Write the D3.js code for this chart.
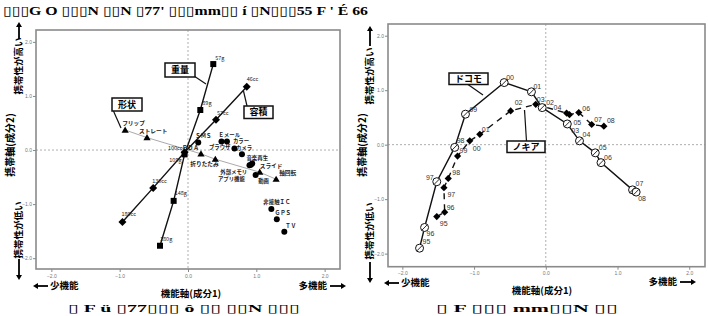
<!DOCTYPE html>
<html><head><meta charset="utf-8">
<script src="https://cdn.jsdelivr.net/npm/d3@7"></script>
<style>
body{margin:0;background:#fff;}
svg{display:block;}
text{font-family:"Noto Sans CJK JP","Noto Sans",sans-serif;}
</style></head><body>
<svg id="c" width="708" height="316"></svg>
<script>
// ---------- data ----------
const axisTicks = [-2, -1, 0, 1, 2];

const weightLabels = ["57g", "89g", "109g", "148g", "180g"];
const weightX = [0.37, 0.18, -0.05, -0.21, -0.41];
const weightY = [1.59, 0.74, -0.08, -0.94, -1.77];

const volumeLabels = ["46cc", "57cc", "100cc", "130cc", "180cc"];
const volumeX = [0.86, 0.41, -0.05, -0.51, -0.96];
const volumeY = [1.17, 0.56, -0.04, -0.70, -1.33];

const shapeLabels = ["フリップ", "ストレート", "ＰＤＡ", "折りたたみ", "スライド", "軸回転"];
const shapeX = [-0.92, -0.60, 0.19, 0.40, 1.05, 1.29];
const shapeY = [0.37, 0.23, -0.07, -0.17, -0.41, -0.54];

const funcLabels = ["ＳＭＳ", "Ｅメール", "カラー", "ブラウザ", "カメラ", "音楽再生", "外部メモリ", "アプリ機能", "動画", "非接触ＩＣ", "ＧＰＳ", "ＴＶ"];
const funcX = [0.15, 0.49, 0.57, 0.68, 0.79, 0.90, 0.94, 0.92, 0.99, 1.22, 1.30, 1.41];
const funcY = [0.14, 0.16, 0.16, 0.03, -0.08, -0.28, -0.25, -0.27, -0.46, -1.09, -1.28, -1.51];

const years = ["95", "96", "97", "98", "99", "00", "01", "02", "03", "04", "05", "06", "07", "08"];
const docomoX = [-1.76, -1.69, -1.52, -1.27, -1.12, -0.58, -0.20, -0.05, 0.30, 0.47, 0.69, 0.77, 1.21, 1.26];
const docomoY = [-1.90, -1.52, -0.68, -0.05, 0.56, 1.14, 0.97, 0.68, 0.38, 0.07, -0.15, -0.33, -0.83, -0.87];
const nokiaX = [-1.52, -1.41, -1.42, -1.36, -1.23, -1.06, -0.92, -0.49, -0.14, 0.29, 0.33, 0.46, 0.64, 0.81];
const nokiaY = [-1.32, -1.24, -0.79, -0.62, -0.21, 0.07, 0.19, 0.62, 0.74, 0.58, 0.55, 0.59, 0.37, 0.34];

const titleText = "▯▯▯G O ▯▯▯N ▯▯N ▯77' ▯▯▯mm▯▯ í ▯N▯▯▯55 F ' É 66";
const captionLeft = "▯ F ü ▯77▯▯▯ ô ▯▯ ▯▯N ▯▯▯";
const captionRight = "▯ F ▯▯▯ mm▯▯N ▯▯";

// ---------- label layout (pixel offsets from point) ----------
const leftLabelPos = {
  "57g":[2,-4,"start"], "89g":[2,-5,"start"], "109g":[-3,8,"end"], "148g":[1,-6,"start"], "180g":[0,-5,"start"],
  "46cc":[0,-6,"start"], "57cc":[1,-5,"start"], "100cc":[-2,-2,"end"], "130cc":[-1,-5,"start"], "180cc":[-1,-6,"start"],
  "フリップ":[-3,-5,"start"], "ストレート":[-8,-5,"start"], "ＰＤＡ":[-2,-4,"end"], "折りたたみ":[-25,7,"start"],
  "スライド":[0,-4,"start"], "軸回転":[3,-4,"start"],
  "ＳＭＳ":[-3,-4,"start"], "Ｅメール":[-3,-4.5,"start"], "カラー":[6,2,"start"], "ブラウザ":[-4,1,"end"],
  "カメラ":[-6,-4.3,"start"], "音楽再生":[-3,-5.5,"start"], "外部メモリ":[-5,10,"end"], "アプリ機能":[-6,16,"end"],
  "動画":[2.5,8,"start"], "非接触ＩＣ":[-8,-4.5,"start"], "ＧＰＳ":[-2,-4,"start"], "ＴＶ":[1,-4,"start"]
};
const docomoLabelPos = [[3,-4],[2,9],[-3,-2,"end"],[2,-4.5],[4,-2],[2,-3],[2,-3],[4,-3],[4,9],[3,-3.5],[3.5,-3],[3,-3],[3,-4],[2,9]];
const nokiaLabelPos = [[3,9],[2,-2],[3.5,9],[4,-3],[2,-3.5],[3,10],[2,-2.5],[4,-6],[1,-2.5],[-13,-3],[4,10.5],[3.5,-2],[2.5,-3],[3,-3.5]];

// ---------- drawing ----------
const svg = d3.select("#c");
svg.append("rect").attr("width", 708).attr("height", 316).attr("fill", "#fff");

const xL = d3.scaleLinear().domain([-2.225, 2.225]).range([36, 340]);
const yL = d3.scaleLinear().domain([-2.2, 2.22]).range([269, 30]);
const xR = d3.scaleLinear().domain([-2.2, 2.22]).range([388, 705]);
const yR = d3.scaleLinear().domain([-2.24, 2.215]).range([266.7, 24]);

function drawFrame(x, y) {
  const g = svg.append("g");
  const [x0, x1] = x.range(), [y1, y0] = y.range();
  g.append("line").attr("x1", x0).attr("x2", x1).attr("y1", y(0)).attr("y2", y(0))
    .attr("stroke", "#999").attr("stroke-width", 0.8).attr("stroke-dasharray", "2,2");
  g.append("line").attr("x1", x(0)).attr("x2", x(0)).attr("y1", y0).attr("y2", y1)
    .attr("stroke", "#999").attr("stroke-width", 0.8).attr("stroke-dasharray", "2,2");
  const ax = g.append("g").attr("transform", `translate(0,${y1})`)
    .call(d3.axisBottom(x).tickValues(axisTicks).tickFormat(d3.format(".1f")).tickSize(3).tickPadding(2));
  const ay = g.append("g").attr("transform", `translate(${x0},0)`)
    .call(d3.axisLeft(y).tickValues(axisTicks).tickFormat(d3.format(".1f")).tickSize(3).tickPadding(1));
  [ax, ay].forEach(a => {
    a.select(".domain").remove();
    a.selectAll("line").attr("stroke", "#888");
    a.selectAll("text").attr("fill", "#777").style("font-size", "5px").style("font-family", "'Liberation Sans',Arial,sans-serif");
  });
  return g;
}
function frameRect(x, y) {
  const [x0, x1] = x.range(), [y1, y0] = y.range();
  svg.append("rect").attr("x", x0).attr("y", y0).attr("width", x1 - x0).attr("height", y1 - y0)
    .attr("fill", "none").attr("stroke", "#8a8a8a").attr("stroke-width", 1.6);
}

const sq = "M-3,-3H3V3H-3Z";
const dia = "M0,-4L4,0L0,4L-4,0Z";
const tri = "M0,-3.6L3.6,2.6L-3.6,2.6Z";

// ===== LEFT PANEL =====
drawFrame(xL, yL);
const lineGen = (xs, ys, X, Y) => d3.line()(xs.map((v, i) => [X(v), Y(ys[i])]));
svg.append("path").attr("d", lineGen(shapeX, shapeY, xL, yL)).attr("fill", "none").attr("stroke", "#aaa").attr("stroke-width", 1);
svg.append("path").attr("d", lineGen(weightX, weightY, xL, yL)).attr("fill", "none").attr("stroke", "#111").attr("stroke-width", 1.4);
svg.append("path").attr("d", lineGen(volumeX, volumeY, xL, yL)).attr("fill", "none").attr("stroke", "#111").attr("stroke-width", 1.4);

function markers(xs, ys, X, Y, shape, fill) {
  svg.append("g").selectAll("path").data(xs).join("path")
    .attr("transform", (d, i) => `translate(${X(d)},${Y(ys[i])})`)
    .attr("d", shape).attr("fill", fill || "#000");
}
markers(shapeX, shapeY, xL, yL, tri);
markers(weightX, weightY, xL, yL, sq);
markers(volumeX, volumeY, xL, yL, dia);
svg.append("g").selectAll("circle").data(funcX).join("circle")
  .attr("cx", d => xL(d)).attr("cy", (d, i) => yL(funcY[i])).attr("r", 3).attr("fill", "#000");

function leftLabels(labels, xs, ys, size, weight) {
  svg.append("g").selectAll("text").data(labels).join("text")
    .attr("x", (d, i) => xL(xs[i]) + leftLabelPos[d][0])
    .attr("y", (d, i) => yL(ys[i]) + leftLabelPos[d][1])
    .attr("text-anchor", d => leftLabelPos[d][2])
    .style("font-size", size + "px").style("font-weight", weight).attr("fill", "#1a1a1a")
    .text(d => d);
}
leftLabels(weightLabels, weightX, weightY, 5.5, "normal");
leftLabels(volumeLabels, volumeX, volumeY, 5.5, "normal");
leftLabels(shapeLabels, shapeX, shapeY, 5.7, "bold");
leftLabels(funcLabels, funcX, funcY, 5.4, "bold");
frameRect(xL, yL);

function callout(x, y, w, h, text, lx1, ly1, lx2, ly2) {
  svg.append("line").attr("x1", lx1).attr("y1", ly1).attr("x2", lx2).attr("y2", ly2).attr("stroke", "#111").attr("stroke-width", 1.2);
  svg.append("rect").attr("x", x).attr("y", y).attr("width", w).attr("height", h)
    .attr("fill", "#fff").attr("stroke", "#111").attr("stroke-width", 1.5);
  svg.append("text").attr("x", x + w / 2).attr("y", y + h / 2 + 3.2).attr("text-anchor", "middle")
    .style("font-size", "9px").style("font-weight", "bold").text(text);
}
callout(165, 63, 30, 14, "重量", 194, 76, 206, 84);
callout(244, 106, 29, 12.5, "容積", 243.5, 91, 247, 106);
callout(112, 98, 30, 13, "形状", 113, 110, 121, 128);

// ===== RIGHT PANEL =====
drawFrame(xR, yR);
svg.append("path").attr("d", lineGen(nokiaX, nokiaY, xR, yR)).attr("fill", "none").attr("stroke", "#111")
  .attr("stroke-width", 1.4).attr("stroke-dasharray", "6,5");
svg.append("path").attr("d", lineGen(docomoX, docomoY, xR, yR)).attr("fill", "none").attr("stroke", "#111").attr("stroke-width", 1.4);
markers(nokiaX, nokiaY, xR, yR, "M0,-3.6L3.6,0L0,3.6L-3.6,0Z");
const dg = svg.append("g").selectAll("g").data(docomoX).join("g")
  .attr("transform", (d, i) => `translate(${xR(d)},${yR(docomoY[i])})`);
dg.append("circle").attr("r", 4).attr("fill", "#fff").attr("stroke", "#111").attr("stroke-width", 1);
dg.append("line").attr("x1", -2.8).attr("y1", 2.8).attr("x2", 2.8).attr("y2", -2.8).attr("stroke", "#111").attr("stroke-width", 0.9);

function yearLabels(xs, ys, pos) {
  svg.append("g").selectAll("text").data(years).join("text")
    .attr("x", (d, i) => xR(xs[i]) + pos[i][0])
    .attr("y", (d, i) => yR(ys[i]) + pos[i][1])
    .attr("text-anchor", (d, i) => pos[i][2] || "start")
    .style("font-size", "7px").style("font-family", "'Liberation Sans',Arial,sans-serif").attr("fill", "#333")
    .text(d => d);
}
yearLabels(docomoX, docomoY, docomoLabelPos);
yearLabels(nokiaX, nokiaY, nokiaLabelPos);
frameRect(xR, yR);
callout(449, 73, 39, 11.5, "ドコモ", 468, 84.5, 483, 95);
callout(507, 141, 38, 11.5, "ノキア", 526.5, 141, 524.5, 110);

// ===== axis annotations =====
function vText(x, y, text, size) {
  svg.append("text").attr("transform", `translate(${x},${y}) rotate(-90)`).attr("text-anchor", "middle")
    .attr("dy", "0.35em").style("font-size", size + "px").style("font-weight", "bold").text(text);
}
function arrow(x1, y1, x2, y2) {
  const a = Math.atan2(y2 - y1, x2 - x1), L = 5, W = 3;
  const bx = x2 - L * Math.cos(a), by = y2 - L * Math.sin(a);
  svg.append("line").attr("x1", x1).attr("y1", y1).attr("x2", bx).attr("y2", by).attr("stroke", "#000").attr("stroke-width", 1.8);
  svg.append("path").attr("d", `M${x2},${y2}L${bx - W * Math.sin(a)},${by + W * Math.cos(a)}L${bx + W * Math.sin(a)},${by - W * Math.cos(a)}Z`).attr("fill", "#000");
}
function hText(x, y, text, size, anchor) {
  svg.append("text").attr("x", x).attr("y", y).attr("text-anchor", anchor || "start").attr("dy", "0.35em")
    .style("font-size", size + "px").style("font-weight", "bold").text(text);
}
// left
vText(19, 66, "携帯性が高い", 9.5); arrow(19, 39, 19, 22);
vText(10, 145, "携帯軸(成分2)", 10);
vText(19, 230, "携帯性が低い", 9.5); arrow(19, 259, 19, 280);
arrow(48, 286, 33, 286); hText(50, 286, "少機能", 9.5);
hText(327, 286, "多機能", 9.5, "end"); arrow(330, 286, 346, 286);
hText(191, 293.5, "機能軸(成分1)", 9.5, "middle");
// right
vText(370, 76, "携帯性が高い", 9.5); arrow(370, 46, 370, 26);
vText(362, 145, "携帯軸(成分2)", 10);
vText(370, 231, "携帯性が低い", 9.5); arrow(370, 262, 370, 283);
arrow(399, 283, 384, 283); hText(401, 283, "少機能", 9.5);
hText(677, 282, "多機能", 9.5, "end"); arrow(680, 282, 696, 282);
hText(542, 291, "機能軸(成分1)", 9.5, "middle");

// title & captions
svg.append("text").attr("x", 3).attr("y", 15).attr("textLength", 365).attr("lengthAdjust", "spacingAndGlyphs")
  .style("font-size", "13px").style("font-weight", "bold").style("font-family", "'Liberation Serif','DejaVu Serif',serif").text(titleText);
svg.append("text").attr("x", 68).attr("y", 311.5).attr("textLength", 232).attr("lengthAdjust", "spacingAndGlyphs")
  .style("font-size", "11px").style("font-weight", "bold").style("font-family", "'Liberation Serif','DejaVu Serif',serif").text(captionLeft);
svg.append("text").attr("x", 436).attr("y", 311.5).attr("textLength", 182).attr("lengthAdjust", "spacingAndGlyphs")
  .style("font-size", "11px").style("font-weight", "bold").style("font-family", "'Liberation Serif','DejaVu Serif',serif").text(captionRight);
</script>
</body></html>
